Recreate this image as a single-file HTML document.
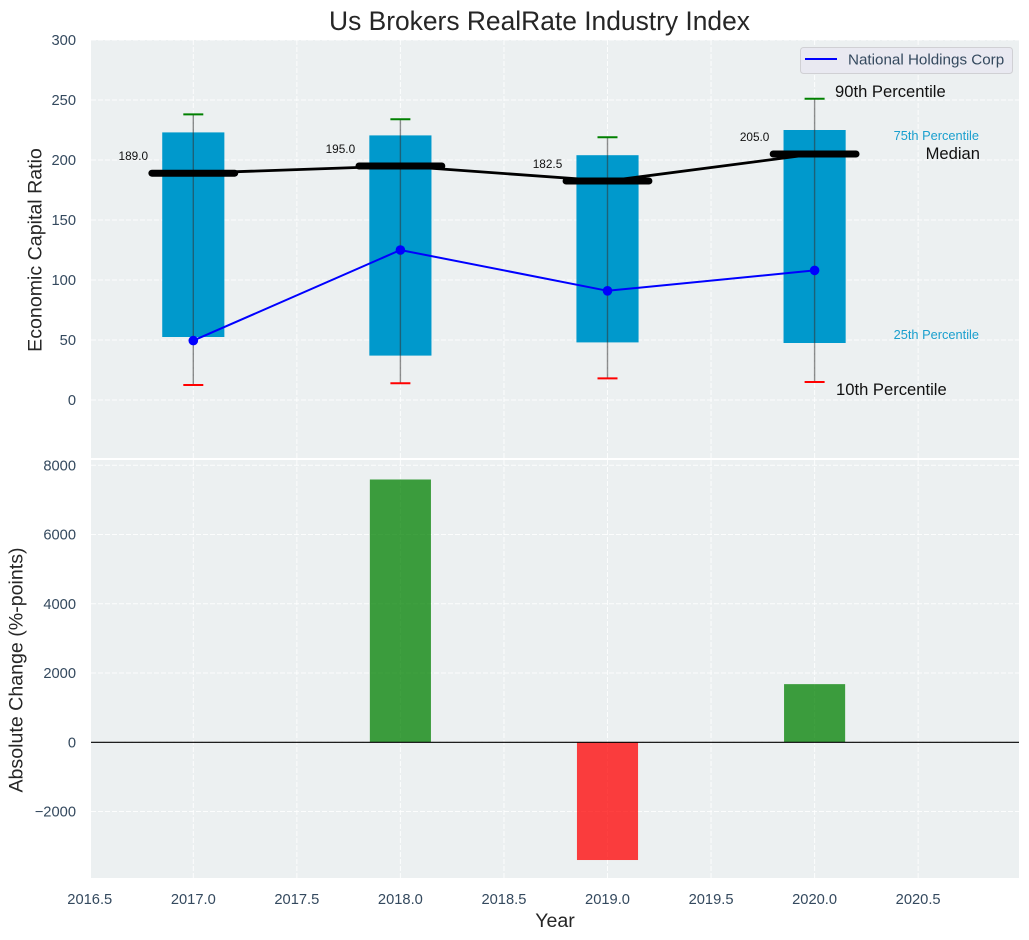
<!DOCTYPE html>
<html>
<head>
<meta charset="utf-8">
<title>Us Brokers RealRate Industry Index</title>
<style>
html,body{margin:0;padding:0;background:#fff;}
svg{display:block;font-family:"Liberation Sans",Arial,sans-serif;}
</style>
</head>
<body>
<svg id="chart" xmlns="http://www.w3.org/2000/svg" width="1029" height="940" viewBox="0 0 1029 940">
<rect x="91" y="40" width="928" height="418" fill="#ecf0f1"/>
<rect x="91" y="460" width="928" height="418" fill="#ecf0f1"/>
<g id="grid"></g>
<g id="top"></g>
<g id="bottom"></g>
<g id="ticks"></g>
<text x="539.500" y="30" font-size="26.4" text-anchor="middle" fill="#262626">Us Brokers RealRate Industry Index</text>
<text transform="translate(41.500,250) rotate(-90)" font-size="19.6" text-anchor="middle" fill="#262626">Economic Capital Ratio</text>
<text transform="translate(22.500,670) rotate(-90)" font-size="19.6" text-anchor="middle" fill="#262626">Absolute Change (%-points)</text>
<text x="555" y="927" font-size="19.6" text-anchor="middle" fill="#262626">Year</text>
<g>
<rect x="800.5" y="47.5" width="212" height="26" rx="3" fill="#e9e9f1" stroke="#d0d0d4" stroke-width="1"/>
<line x1="805" y1="59" x2="837" y2="59" stroke="#0000ff" stroke-width="2"/>
<text x="848" y="64.500" font-size="15.2" fill="#34495e">National Holdings Corp</text>
</g>
<text x="835" y="97" font-size="16.6" fill="#111">90th Percentile</text>
<text x="979" y="140" font-size="12.8" text-anchor="end" fill="#1a9fce">75th Percentile</text>
<text x="980" y="159" font-size="16.6" text-anchor="end" fill="#111">Median</text>
<text x="979" y="339" font-size="12.8" text-anchor="end" fill="#1a9fce">25th Percentile</text>
<text x="836" y="395" font-size="16.6" fill="#111">10th Percentile</text>
</svg>
<script>
const years = [2017, 2018, 2019, 2020];
const p10 = [12.5, 14, 18, 15];
const p25 = [52.5, 37, 48, 47.5];
const median = [189, 195, 182.5, 205];
const p75 = [223, 220.5, 204, 225];
const p90 = [238, 234, 219, 251];
const company = [49.5, 125, 91, 108];
const changes = [0, 7590, -3400, 1680];
const xTicks = [2016.5, 2017, 2017.5, 2018, 2018.5, 2019, 2019.5, 2020, 2020.5];
const topYTicks = [0, 50, 100, 150, 200, 250, 300];
const bottomYTicks = [-2000, 0, 2000, 4000, 6000, 8000];

const NS = 'http://www.w3.org/2000/svg';
const xScale = v => 193.3 + (v - 2017) * 207.1;
const yTop = v => 400 - v * 1.2;
const yBot = v => 742.3 - v * 0.034625;
const gridG = document.getElementById('grid');
const topG = document.getElementById('top');
const botG = document.getElementById('bottom');
const tickG = document.getElementById('ticks');

function mk(tag, parent, attrs) {
  const el = document.createElementNS(NS, tag);
  for (const k in attrs) el.setAttribute(k, attrs[k]);
  parent.appendChild(el);
  return el;
}
const gridStyle = {stroke: '#ffffff', 'stroke-width': 1, 'stroke-dasharray': '5 2', 'stroke-opacity': 0.85};

xTicks.forEach(t => {
  const x = xScale(t);
  if (x >= 91) {
    const a = mk('line', gridG, Object.assign({x1: x, x2: x, y1: 40, y2: 458}, gridStyle));
    
    
    const b = mk('line', gridG, Object.assign({x1: x, x2: x, y1: 460, y2: 878}, gridStyle));
    
    
  }
  const lab = mk('text', tickG, {x: x, y: 904, 'font-size': 14.7, 'text-anchor': 'middle', fill: '#34495e'});
  lab.textContent = t.toFixed(1);
  
  
});

topYTicks.forEach(t => {
  const y = yTop(t);
  const g = mk('line', gridG, Object.assign({x1: 91, x2: 1019, y1: y, y2: y}, gridStyle));
  
  
  const lab = mk('text', tickG, {x: 76, y: y + 5, 'font-size': 14.7, 'text-anchor': 'end', fill: '#34495e'});
  lab.textContent = String(t);
  
  
});

bottomYTicks.forEach(t => {
  const y = yBot(t);
  const g = mk('line', gridG, Object.assign({x1: 91, x2: 1019, y1: y, y2: y}, gridStyle));
  
  
  const lab = mk('text', tickG, {x: 76, y: y + 5, 'font-size': 14.7, 'text-anchor': 'end', fill: '#34495e'});
  lab.textContent = String(t).replace('-', '\u2212');
  
  
});

/* interquartile bars */
years.forEach((yr, i) => {
  const x0 = xScale(yr - 0.15), x1 = xScale(yr + 0.15);
  const r = mk('rect', topG, {x: x0, y: yTop(p75[i]), width: x1 - x0, height: yTop(p25[i]) - yTop(p75[i]), fill: '#0099cc'});
  
  
});

/* whiskers and caps */
years.forEach((yr, i) => {
  const x = xScale(yr);
  const w = mk('line', topG, {x1: x, x2: x, y1: yTop(p90[i]), y2: yTop(p10[i]), stroke: '#333', 'stroke-opacity': 0.55, 'stroke-width': 1.4});
  
  
  const c1 = mk('line', topG, {x1: x - 10, x2: x + 10, y1: yTop(p90[i]), y2: yTop(p90[i]), stroke: '#008000', 'stroke-width': 2});
  
  
  const c2 = mk('line', topG, {x1: x - 10, x2: x + 10, y1: yTop(p10[i]), y2: yTop(p10[i]), stroke: '#ff0000', 'stroke-width': 2});
  
  
});

/* median connecting line */
const medLine = mk('polyline', topG, {points: years.map((yr, i) => xScale(yr) + ',' + yTop(median[i])).join(' '), fill: 'none', stroke: '#000', 'stroke-width': 2.8});



/* median thick dashes and labels */
years.forEach((yr, i) => {
  const m = mk('line', topG, {x1: xScale(yr - 0.2), x2: xScale(yr + 0.2), y1: yTop(median[i]), y2: yTop(median[i]), stroke: '#000', 'stroke-width': 7, 'stroke-linecap': 'round'});
  
  
  const t = mk('text', topG, {x: xScale(yr) - 60, y: yTop(median[i]) - 13, 'font-size': 11.8, 'text-anchor': 'middle', fill: '#111'});
  t.textContent = median[i].toFixed(1);
  
  
});

/* company line */
const compLine = mk('polyline', topG, {points: years.map((yr, i) => xScale(yr) + ',' + yTop(company[i])).join(' '), fill: 'none', stroke: '#0000ff', 'stroke-width': 2});


years.forEach((yr, i) => {
  const p = mk('circle', topG, {cx: xScale(yr), cy: yTop(company[i]), r: 4.8, fill: '#0000ff'});
  
  
});

/* change bars */
years.forEach((yr, i) => {
  if (changes[i] === 0) return;
  const x0 = xScale(yr - 0.1475), x1 = xScale(yr + 0.1475);
  const top = Math.min(yBot(changes[i]), yBot(0));
  const h = Math.abs(yBot(changes[i]) - yBot(0));
  const r = mk('rect', botG, {x: x0, y: top, width: x1 - x0, height: h, fill: changes[i] > 0 ? '#008000' : '#ff0000', 'fill-opacity': 0.75});
  
  
});
const zero = mk('line', botG, {x1: 91, x2: 1019, y1: yBot(0), y2: yBot(0), stroke: '#000', 'stroke-width': 1.2});


</script>
</body>
</html>
